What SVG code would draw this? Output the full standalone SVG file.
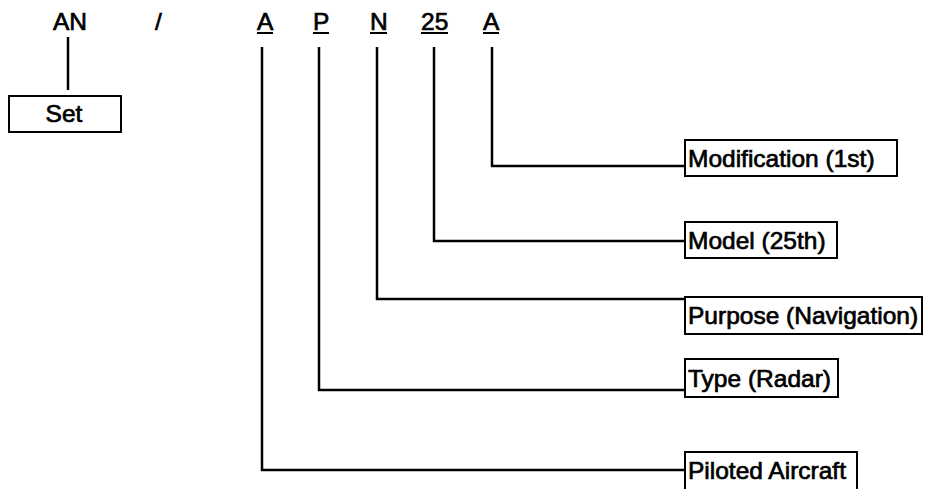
<svg xmlns="http://www.w3.org/2000/svg" width="927" height="489" viewBox="0 0 927 489">
<style>
text{font-family:"Liberation Sans",Arial,sans-serif;font-size:24.5px;fill:#000;stroke:#000;stroke-width:0.7}
.box{fill:#fff;stroke:#000;stroke-width:2}
.ln{fill:none;stroke:#000;stroke-width:2.5}
.ul{stroke:#000;stroke-width:2}
</style>
<rect width="927" height="489" fill="#fff"/>
<g id="code">
<text x="53" y="30">AN</text>
<text x="155" y="30">/</text>
<text x="257" y="30">A</text><line class="ul" x1="257" y1="33" x2="273" y2="33"/>
<text x="313" y="30">P</text><line class="ul" x1="313" y1="33" x2="329" y2="33"/>
<text x="370" y="30">N</text><line class="ul" x1="370" y1="33" x2="387" y2="33"/>
<text x="421" y="30">25</text><line class="ul" x1="421" y1="33" x2="448" y2="33"/>
<text x="483" y="30">A</text><line class="ul" x1="483" y1="33" x2="499" y2="33"/>
</g>
<g id="connectors">
<path class="ln" d="M68 37 V90"/>
<path class="ln" d="M492 47 V166 H685"/>
<path class="ln" d="M434 47 V241 H685"/>
<path class="ln" d="M377 47 V299 H685"/>
<path class="ln" d="M319 47 V390 H685"/>
<path class="ln" d="M262 47 V470 H685"/>
</g>
<g id="set"><rect class="box" x="9" y="96" width="112" height="36"/><text x="64" y="122" text-anchor="middle">Set</text></g>
<g id="modification"><rect class="box" x="685" y="140" width="212" height="36"/><text x="688" y="167">Modification (1st)</text></g>
<g id="model"><rect class="box" x="685" y="222" width="152" height="36"/><text x="688" y="249">Model (25th)</text></g>
<g id="purpose"><rect class="box" x="685" y="297" width="237" height="37"/><text x="688" y="324">Purpose (Navigation)</text></g>
<g id="type"><rect class="box" x="685" y="359" width="153" height="38"/><text x="688" y="387">Type (Radar)</text></g>
<g id="piloted"><rect class="box" x="685" y="452" width="172" height="40"/><text x="688" y="479">Piloted Aircraft</text></g>
</svg>
